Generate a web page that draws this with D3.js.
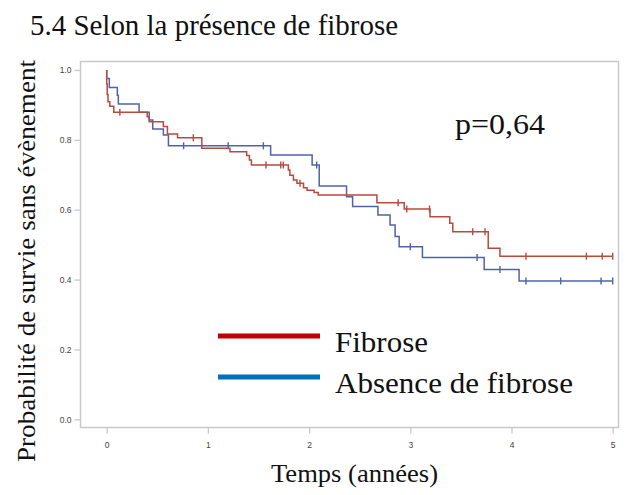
<!DOCTYPE html>
<html><head><meta charset="utf-8">
<script src="https://cdn.jsdelivr.net/npm/d3@7"></script>
<style>body{margin:0;background:#fff}svg{display:block}</style>
</head><body>
<svg id="c" width="626" height="495"></svg>
<script>
// ---- data ----
const xTicks = [0, 1, 2, 3, 4, 5];
const yTicks = [0.0, 0.2, 0.4, 0.6, 0.8, 1.0];
const seriesNames = ["Fibrose", "Absence de fibrose"];
// Fibrose (red): event times / survival after event
const fibTimes = [0.0, 0.005, 0.013, 0.03, 0.07, 0.40, 0.42, 0.56, 0.60, 0.70, 0.94, 1.218, 1.383, 1.41, 1.43, 1.795, 1.81, 1.845, 1.88, 1.945, 1.98, 2.05, 2.09, 2.67, 2.94, 3.195, 3.39, 3.42, 3.77, 3.886];
const fibSurv  = [0.96, 0.93, 0.909, 0.896, 0.879, 0.866, 0.852, 0.838, 0.817, 0.806, 0.776, 0.766, 0.755, 0.742, 0.728, 0.714, 0.699, 0.685, 0.676, 0.663, 0.656, 0.649, 0.642, 0.62, 0.602, 0.58, 0.561, 0.537, 0.49, 0.467];
const fibCensor = [0.13, 0.856, 1.574, 1.72, 1.745, 1.91, 2.88, 2.965, 3.19, 3.617, 3.738, 4.143, 4.74, 4.897, 5.0];
// Absence de fibrose (blue)
const absTimes = [0.0, 0.026, 0.105, 0.115, 0.32, 0.42, 0.455, 0.56, 0.61, 1.62, 2.03, 2.10, 2.37, 2.43, 2.68, 2.80, 2.85, 2.89, 3.12, 3.73, 4.075];
const absSurv  = [0.976, 0.95, 0.928, 0.903, 0.879, 0.857, 0.831, 0.814, 0.783, 0.757, 0.728, 0.668, 0.637, 0.609, 0.585, 0.556, 0.523, 0.494, 0.463, 0.429, 0.396];
const absCensor = [0.76, 1.2, 1.548, 2.075, 3.0, 3.66, 3.886, 4.143, 4.486, 4.885, 5.0];
const pValueText = "p=0,64";

// ---- chart ----
const svg = d3.select("#c");
const x = d3.scaleLinear().domain([0, 5]).range([106.7, 612.7]);
const y = d3.scaleLinear().domain([0, 1]).range([419.3, 70]);
const frameL = 80.5, frameR = 618.5, frameT = 61.5, frameB = 427.5;
const axisCol = "#c9c9c9";
const serif = "Liberation Serif, Times New Roman, serif";

// frame
svg.append("rect").attr("x", frameL).attr("y", frameT).attr("width", frameR - frameL).attr("height", frameB - frameT)
  .attr("fill", "none").attr("stroke", axisCol).attr("stroke-width", 1.5);

// y axis
const ya = svg.append("g").attr("transform", `translate(${frameL},0)`)
  .call(d3.axisLeft(y).tickValues(yTicks).tickFormat(d3.format(".1f")).tickSize(6).tickPadding(3));
ya.select(".domain").remove();
ya.selectAll("line").attr("stroke", axisCol).attr("stroke-width", 1.3);
ya.selectAll("text").attr("font-family", "Liberation Sans, Arial, sans-serif").attr("font-size", 8.5).attr("fill", "#444");

// x axis
const xa = svg.append("g").attr("transform", `translate(0,${frameB})`)
  .call(d3.axisBottom(x).tickValues(xTicks).tickFormat(d3.format("d")).tickSize(6).tickPadding(8));
xa.select(".domain").remove();
xa.selectAll("line").attr("stroke", axisCol).attr("stroke-width", 1.3);
xa.selectAll("text").attr("font-family", "Liberation Sans, Arial, sans-serif").attr("font-size", 8.5).attr("fill", "#444");

function survAt(times, surv, t) {
  let s = 1;
  for (let i = 0; i < times.length; i++) if (times[i] <= t) s = surv[i];
  return s;
}
function drawCurve(times, surv, censor, color) {
  const pts = [[0, 1]].concat(times.map((t, i) => [t, surv[i]]));
  pts.push([5, surv[surv.length - 1]]);
  const line = d3.line().x(d => x(d[0])).y(d => y(d[1])).curve(d3.curveStepAfter);
  svg.append("path").attr("d", line(pts)).attr("fill", "none").attr("stroke", color).attr("stroke-width", 1.5);
  svg.append("g").selectAll("line").data(censor).join("line")
    .attr("x1", d => x(d)).attr("x2", d => x(d))
    .attr("y1", d => y(survAt(times, surv, d)) - 3.5).attr("y2", d => y(survAt(times, surv, d)) + 3.5)
    .attr("stroke", color).attr("stroke-width", 1.4);
}
drawCurve(absTimes, absSurv, absCensor, "#5063a8");
drawCurve(fibTimes, fibSurv, fibCensor, "#b84a3e");

// legend
const legColors = ["#c00000", "#0070c0"];
const legY = [336, 377];
const legTextW = [93, 238];
seriesNames.forEach((n, i) => {
  svg.append("line").attr("x1", 218).attr("x2", 320).attr("y1", legY[i]).attr("y2", legY[i])
    .attr("stroke", legColors[i]).attr("stroke-width", 5);
  svg.append("text").attr("x", 335).attr("y", legY[i] + 16).text(n)
    .attr("textLength", legTextW[i]).attr("lengthAdjust", "spacingAndGlyphs")
    .attr("font-family", serif).attr("font-size", 30).attr("fill", "#111");
});

// p value
svg.append("text").attr("x", 455).attr("y", 134).text(pValueText)
  .attr("textLength", 90).attr("lengthAdjust", "spacingAndGlyphs")
  .attr("font-family", serif).attr("font-size", 30).attr("fill", "#111");

// title
svg.append("text").attr("x", 30).attr("y", 35).text("5.4 Selon la présence de fibrose")
  .attr("textLength", 368).attr("lengthAdjust", "spacingAndGlyphs")
  .attr("font-family", serif).attr("font-size", 29.5).attr("fill", "#111");

// axis titles
svg.append("text").attr("transform", "translate(35,261) rotate(-90)").attr("text-anchor", "middle")
  .text("Probabilité de survie sans évènement")
  .attr("textLength", 402).attr("lengthAdjust", "spacingAndGlyphs")
  .attr("font-family", serif).attr("font-size", 25).attr("fill", "#111");
svg.append("text").attr("x", 354.5).attr("y", 482).attr("text-anchor", "middle").text("Temps (années)")
  .attr("textLength", 167).attr("lengthAdjust", "spacingAndGlyphs")
  .attr("font-family", serif).attr("font-size", 25).attr("fill", "#111");
</script>
</body></html>
